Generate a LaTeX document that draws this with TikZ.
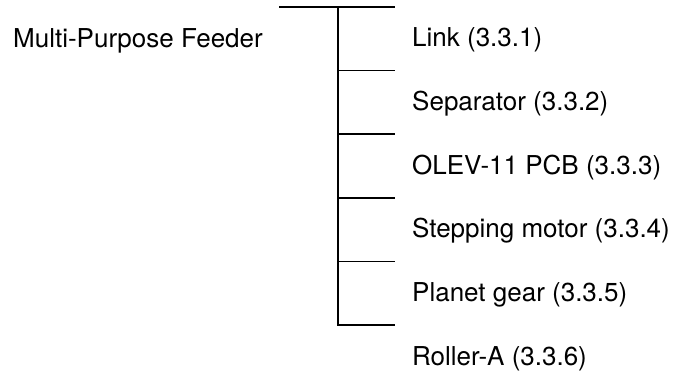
\documentclass[tikz,border=0pt]{standalone}
\usepackage{fontspec}
\setmainfont{TeX Gyre Heros}
\usepackage{tikz}
\usetikzlibrary{positioning}

\begin{document}
\begin{tikzpicture}[
  x=1pt, y=-1pt,
  part/.style={
    anchor=base west,
    inner sep=0pt,
    font=\fontsize{26}{30}\selectfont
  },
  tree/.style={line width=1.7pt, line cap=butt}
]
\useasboundingbox (0,0) rectangle (676,374);

\node[part] (feeder) at (13,48) {Multi-Purpose Feeder};

\node[part] (link) at (412,47) {Link (3.3.1)};
\node[part] (sep) at (412,110.6) {Separator (3.3.2)};
\node[part] (pcb) at (412,174.2) {OLEV-11 PCB (3.3.3)};
\node[part] (motor) at (412,237.8) {Stepping motor (3.3.4)};
\node[part] (gear) at (412,301.4) {Planet gear (3.3.5)};
\node[part] (roller) at (412,365) {Roller-A (3.3.6)};

\coordinate (topL) at (279,7);
\coordinate (topR) at (395,7);
\coordinate (stem) at (338,7);
\coordinate (t1) at (338,70.6);
\coordinate (t2) at (338,134.2);
\coordinate (t3) at (338,197.8);
\coordinate (t4) at (338,261.4);
\coordinate (t5) at (338,325);

\draw[tree] (topL) -- (topR);
\draw[tree] (stem) -- (t5);
\draw[tree] (t1) -- ++(57,0);
\draw[tree] (t2) -- ++(57,0);
\draw[tree] (t3) -- ++(57,0);
\draw[tree] (t4) -- ++(57,0);
\draw[tree] ([xshift=-0.85pt]t5) -- ++(57.85,0);
\end{tikzpicture}
\end{document}
